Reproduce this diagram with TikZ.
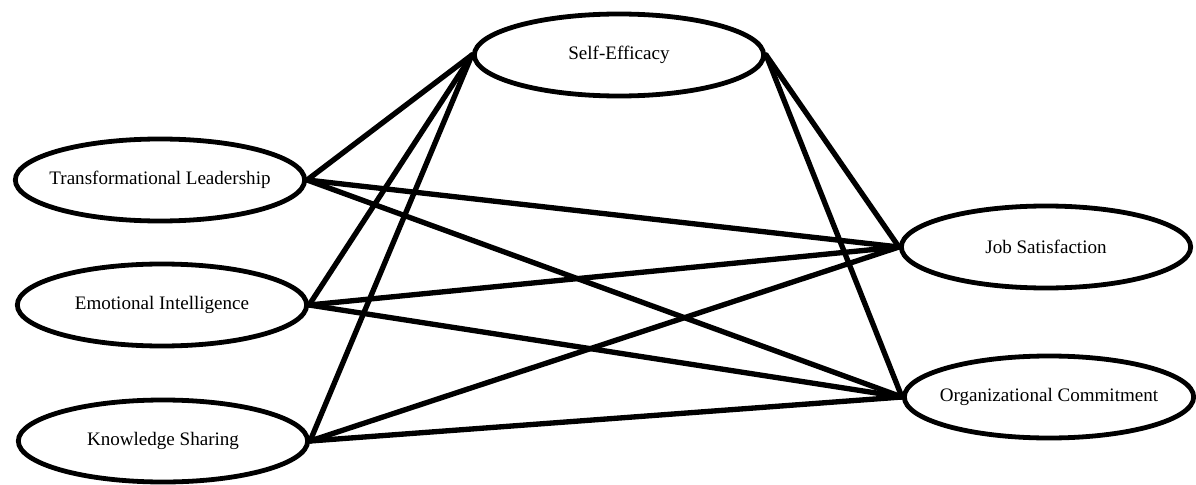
\documentclass[tikz,border=0pt]{standalone}
\usepackage{fontspec}
\setmainfont{Liberation Serif}
\usetikzlibrary{shapes.geometric}
\newcommand{\lvtext}[1]{\makebox[0pt]{#1}}
\begin{document}
\begin{tikzpicture}[x=0.75pt,y=-0.75pt,
  latent/.style={ellipse, draw=black, line width=3.6pt, fill=white, minimum width=217pt, minimum height=61.5pt, inner sep=0pt, font=\fontsize{14.3}{16}\selectfont},
  path/.style={line width=4pt, line cap=round}]
\useasboundingbox (0,0) rectangle (1196,485);
\node[latent] (tl) at (160,180) {\lvtext{Transformational Leadership}};
\node[latent] (ei) at (162,305) {\lvtext{Emotional Intelligence}};
\node[latent] (ks) at (163,441) {\lvtext{Knowledge Sharing}};
\node[latent] (se) at (619,55) {\lvtext{Self-Efficacy}};
\node[latent] (js) at (1046,247) {\lvtext{Job Satisfaction}};
\node[latent] (oc) at (1049,397) {\lvtext{Organizational Commitment}};
\foreach \s in {tl,ei,ks}{
  \draw[path] (\s.east) -- (se.west);
  \draw[path] (\s.east) -- (js.west);
  \draw[path] (\s.east) -- (oc.west);
}
\draw[path] (se.east) -- (js.west);
\draw[path] (se.east) -- (oc.west);
\end{tikzpicture}
\end{document}
